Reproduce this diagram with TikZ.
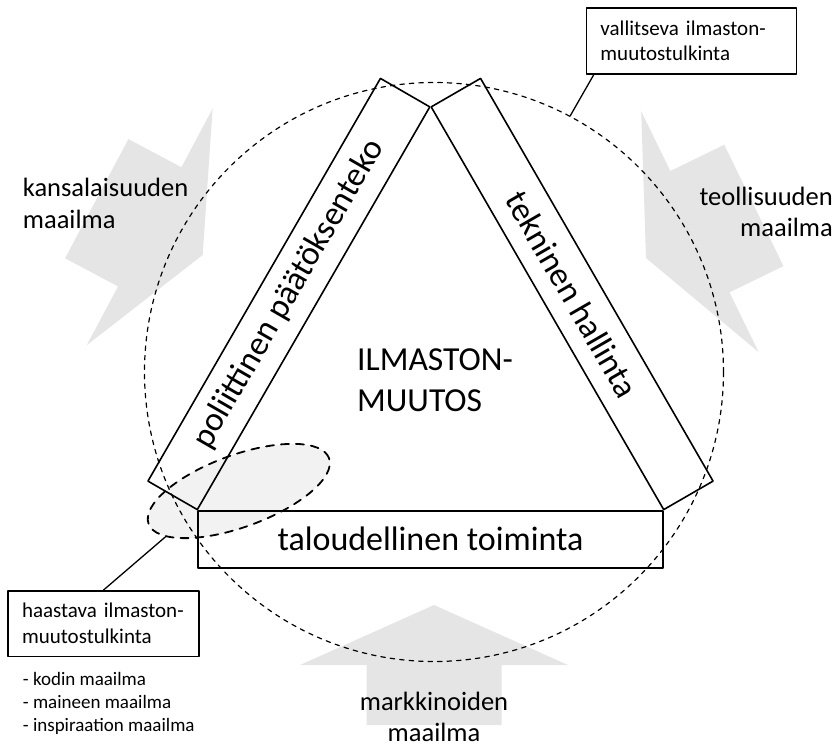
\documentclass[tikz,border=0pt]{standalone}
\usepackage{fontspec}
\setmainfont{Carlito}
\usepackage    {tikz}
\usetikzlibrary{calc}
\usetikzlibrary{shapes.geometric}

% gray block arrow: tip at #1, turned by #2
\newcommand\worldarrow[2]{%
  \fill[worldfill,shift={#1},rotate=#2]
    (0,0) -- (134,60) -- (67.5,60) -- (67.5,120) -- (-67.5,120) -- (-67.5,60) -- (-134,60) -- cycle;}

\begin{document}
\begin{tikzpicture}[line cap=round,line join=round,
  x=1pt,y=-1pt,   % picture units, y downwards
  worldfill/.style={fill=black!10},
  band/.style={draw,line width=1.6pt,minimum width=\side pt,minimum height=\bw pt,
    inner sep=0pt,font=\fontsize{34}{41}\selectfont},
  world/.style={inner sep=0pt,font=\fontsize{26.5}{31.5}\selectfont},
  tulkinta/.style={draw,line width=1.5pt,inner xsep=14pt,minimum height=65.7pt,
    align=left,font=\fontsize{21}{25.7}\selectfont},
  ]
  \def\side{465} % triangle side
  \def\bw{57}    % band width
  \useasboundingbox (0,0) rectangle (839,748);
  \coordinate (L) at (198,510);
  \coordinate (R) at (663,510);
  \coordinate (T) at (430.5,107.3);
  \coordinate (O) at (434,372); % circle centre
  % WORLDS
  \worldarrow{(434,605)}{0}
  \worldarrow{(202.7,255)}{-118}
  \worldarrow{(646,258)}{116}
  % ellipse and circle
  \node[ellipse,draw,fill=black!5,dash pattern=on 8pt off 7pt,line width=1.8pt,
        minimum width=192pt,minimum height=72pt,inner sep=0pt,rotate=20] (haaste) at (238.8,491) {};
  \node[circle,draw,dash pattern=on 4.5pt off 5pt,line width=1.2pt,
        minimum size=579pt,inner sep=0pt] (vallit) at (O) {};
  % BANDS
  \node[band,anchor=north] (talous) at ($(L)!0.5!(R)$) {taloudellinen toiminta};
  \node[band,anchor=south,rotate=60] (politiikka) at ($(L)!0.5!(T)$) {poliittinen päätöksenteko};
  \node[band,anchor=south,rotate=-60] (tekniikka) at ($(T)!0.5!(R)$) {tekninen hallinta};
  \node[align=left,inner sep=0pt,font=\fontsize{33.6}{41}\selectfont] (ilmasto) at (435,380) {ILMASTON-\\MUUTOS};
  % world labels
  \node[world,anchor=west,align=left]  (kansa)    at (22.7,203.4) {kansalaisuuden\\maailma};
  \node[world,anchor=east,align=right] (teollisuus) at (833,212) {teollisuuden\\maailma};
  \node[world,align=center]            (markkinat) at (434,717) {markkinoiden\\maailma};
  % INTERPRETATIONS
  \node[tulkinta,anchor=north west,text width=182pt] (vbox) at (585.7,7.3)
    {\mbox{vallitseva ilmaston-}\\\mbox{muutostulkinta}};
  \node[tulkinta,anchor=north west,text width=163pt] (hbox) at (7.3,590)
    {\mbox{haastava ilmaston-}\\\mbox{muutostulkinta}};
  \draw[line width=1.3pt] (vbox.199) -- (vallit.62);
  \draw[line width=1.3pt] (hbox.north) -- (haaste.192);
  \node[anchor=north west,align=left,inner sep=0pt,font=\fontsize{19}{23.3}\selectfont] (muut) at (22.7,671.9)
    {- kodin maailma\\- maineen maailma\\- inspiraation maailma};
\end{tikzpicture}
\end{document}
